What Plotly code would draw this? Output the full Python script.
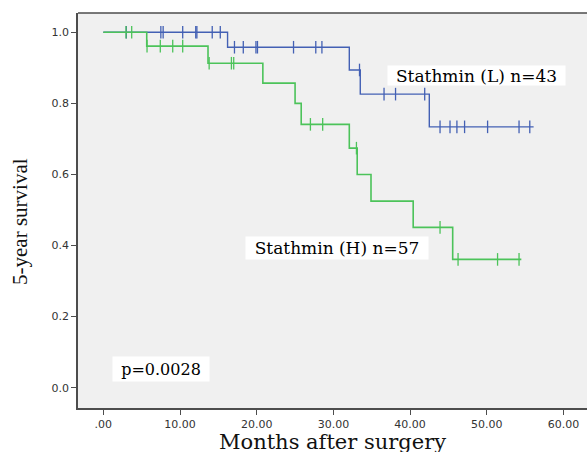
import plotly.graph_objects as go
import numpy as np

# ---- data ----
low_event_months = [0, 16.2, 32.07, 33.5, 42.5]
low_survival = [1.0, 0.958, 0.894, 0.826, 0.734]
low_last_month = 56.1
low_censored_months = [3.0, 7.5, 7.8, 10.35, 12.05, 12.2, 14.2, 15.25, 17.1, 18.25,
                       19.9, 20.1, 24.8, 27.7, 28.5, 33.4, 36.6, 38.1, 41.9, 43.9,
                       45.2, 46.1, 47.1, 50.1, 54.2, 55.6]

high_event_months = [0, 5.66, 13.65, 20.8, 25.0, 25.8, 32.07, 33.1, 34.9, 40.4, 45.55]
high_survival = [1.0, 0.961, 0.913, 0.857, 0.800, 0.741, 0.674, 0.600, 0.525, 0.451, 0.361]
high_last_month = 54.5
high_censored_months = [2.96, 3.7, 5.7, 7.43, 9.05, 10.35, 13.8, 16.7, 17.0, 27.0,
                        28.6, 33.0, 43.9, 46.25, 51.4, 54.2]

x_tick_vals = [0, 10, 20, 30, 40, 50, 60]
x_tick_text = [".00", "10.00", "20.00", "30.00", "40.00", "50.00", "60.00"]
y_tick_vals = [0.0, 0.2, 0.4, 0.6, 0.8, 1.0]
y_tick_text = ["0.0", "0.2", "0.4", "0.6", "0.8", "1.0"]

label_low = "Stathmin (L) n=43"
label_high = "Stathmin (H) n=57"
p_text = "p=0.0028"

BLUE = "#4360b4"
GREEN = "#4cc35a"


def surv_at(t, times, surv):
    idx = np.searchsorted(times, t, side="right") - 1
    return surv[idx]


fig = go.Figure()
for times, surv, last, cens, col, w in [
    (low_event_months, low_survival, low_last_month, low_censored_months, BLUE, 1.4),
    (high_event_months, high_survival, high_last_month, high_censored_months, GREEN, 1.6),
]:
    xs = list(times) + [last]
    ys = list(surv) + [surv[-1]]
    fig.add_trace(go.Scatter(x=xs, y=ys, mode="lines", line=dict(color=col, width=w, shape="hv"),
                             showlegend=False, hoverinfo="skip"))
    fig.add_trace(go.Scatter(x=cens, y=[surv_at(t, times, surv) for t in cens], mode="markers",
                             marker=dict(symbol="line-ns", size=9, line=dict(color=col, width=1.3)),
                             showlegend=False, hoverinfo="skip"))

AX = "#4d4d4d"
TOP, BOT = 13, 408
fig.update_layout(
    width=587, height=452,
    margin=dict(l=78, r=0, t=TOP, b=452 - BOT, autoexpand=False),
    paper_bgcolor="white", plot_bgcolor="#f0f0f0",
    xaxis=dict(range=[-3.30, 63.06], tickvals=x_tick_vals, ticktext=x_tick_text,
               showgrid=False, zeroline=False, showline=True, linecolor=AX, linewidth=1.6,
               ticks="outside", ticklen=5, tickcolor=AX, tickwidth=1.3,
               tickfont=dict(family="DejaVu Sans", size=11, color="#333333")),
    yaxis=dict(range=[-0.0571, 1.0543], tickvals=y_tick_vals, ticktext=y_tick_text,
               showgrid=False, zeroline=False, showline=True, linecolor=AX, linewidth=1.6,
               ticks="outside", ticklen=5, tickcolor=AX, tickwidth=1.3,
               tickfont=dict(family="DejaVu Sans", size=11, color="#333333")),
    shapes=[dict(type="line", xref="paper", yref="paper", x0=0, x1=1, y0=1, y1=1,
                 line=dict(color=AX, width=1.6))],
)

serif = "DejaVu Serif"
fig.add_annotation(x=48.7, y=0.879, xref="x", yref="y", text=label_low, showarrow=False,
                   font=dict(family=serif, size=17, color="black"), bgcolor="white",
                   width=177, height=19, borderpad=0)
fig.add_annotation(x=30.5, y=0.394, xref="x", yref="y", text=label_high, showarrow=False,
                   font=dict(family=serif, size=17, color="black"), bgcolor="white",
                   width=182, height=22, borderpad=0)
fig.add_annotation(x=7.56, y=0.053, xref="x", yref="y", text=p_text, showarrow=False,
                   font=dict(family=serif, size=16, color="black"), bgcolor="white",
                   width=96, height=24, borderpad=0)

# axis titles
H = BOT - TOP
fig.add_annotation(x=0.5, y=-(428 - BOT) / H, xref="paper", yref="paper", yanchor="top",
                   text="Months after surgery", showarrow=False,
                   font=dict(family=serif, size=21, color="#111111"))
fig.add_annotation(x=-58 / 509, y=(BOT - 222) / H, xref="paper", yref="paper",
                   xanchor="center", yanchor="middle", textangle=-90,
                   text="5-year survival", showarrow=False,
                   font=dict(family="Liberation Serif", size=21, color="#111111"))

fig.write_html("out.html", config={"displayModeBar": False},
               post_script="document.body.style.margin='0';"
               "document.body.style.overflow='hidden';")
